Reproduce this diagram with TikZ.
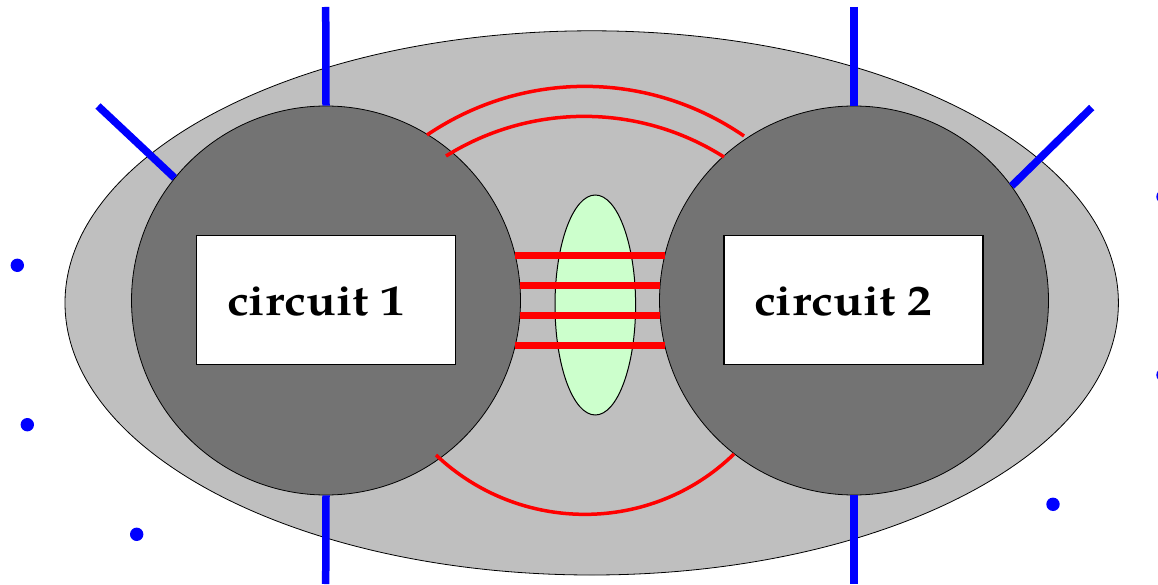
\documentclass[tikz,border=0pt]{standalone}
\usepackage{fontspec}
\usepackage{graphicx}
\setmainfont{TeX Gyre Pagella}
\usetikzlibrary{shapes.geometric}
\definecolor{outergray}{gray}{0.75}
\definecolor{innergray}{gray}{0.45}
\definecolor{lightgreen}{RGB}{204,255,204}
\newcommand{\widetxt}[1]{\scalebox{1.14}[1]{#1}}
\begin{document}
\begin{tikzpicture}[x=1pt,y=-1pt,
  tshell/.style={ellipse, draw=black, line width=0.8pt, fill=outergray, minimum width=1053.4pt, minimum height=544.2pt, inner sep=0pt},
  tcore/.style={circle, draw=black, line width=0.8pt, fill=innergray, minimum size=389pt, inner sep=0pt},
  tbox/.style={draw=black, line width=1.5pt, fill=white, minimum width=259pt, minimum height=128.6pt, inner sep=0pt},
  ttext/.style={font=\bfseries\fontsize{43}{43}\selectfont, anchor=base west, inner sep=0pt},
  tlens/.style={ellipse, draw=black, line width=1pt, fill=lightgreen, minimum width=80.6pt, minimum height=220pt, inner sep=0pt},
  redwire/.style={red, line width=3.5pt},
  redbus/.style={red, line width=7.5pt},
  bluepin/.style={blue, line width=7.5pt},
  bluedot/.style={circle, fill=blue, minimum size=13.4pt, inner sep=0pt}
]
\useasboundingbox (0,0) rectangle (1158,585);
\node[tshell] (shell) at (591.7,302.9) {};
% free ends
\coordinate (p1) at (325.7,7);
\coordinate (p2) at (325.7,584);
\coordinate (p3) at (854,7);
\coordinate (p4) at (854,584);
\coordinate (p5) at (98,106);
\coordinate (p6) at (1091.7,107.5);
% circles
\node[tcore] (c1) at (326,300.5) {};
\node[tcore] (c2) at (854,300.5) {};
% pins
\draw[bluepin] (p1) -- (c1.north);
\draw[bluepin] (c1.south) -- (p2);
\draw[bluepin] (p3) -- (c2.north);
\draw[bluepin] (c2.south) -- (p4);
\draw[bluepin] (p5) -- (c1.141.5);
\draw[bluepin] (c2.36) -- (p6);
% arcs
\coordinate (a1) at (427,135);
\coordinate (a2) at (744,136);
\coordinate (a3) at (446,156);
\coordinate (a4) at (724,157);
\coordinate (a5) at (436,455);
\coordinate (a6) at (734,454);
\draw[redwire] (a1) .. controls (523,70) and (648,70) .. (a2);
\draw[redwire] (a3) .. controls (531,103) and (639,103) .. (a4);
\draw[redwire] (a5) .. controls (519.6,534.3) and (651.4,534.3) .. (a6);
% lens and bus
\node[tlens] (g) at (595.3,305) {};
\coordinate (bl1) at (515.2,255.5);
\coordinate (br1) at (664.8,255.5);
\coordinate (bl2) at (519.9,285.5);
\coordinate (br2) at (660.1,285.5);
\coordinate (bl3) at (519.9,315.5);
\coordinate (br3) at (660.1,315.5);
\coordinate (bl4) at (515.2,345.5);
\coordinate (br4) at (664.8,345.5);
\draw[redbus] (bl1) -- (br1);
\draw[redbus] (bl2) -- (br2);
\draw[redbus] (bl3) -- (br3);
\draw[redbus] (bl4) -- (br4);
% boxes
\node[tbox] (r1) at (326.2,300) {};
\node[tbox] (r2) at (853.5,300) {};
\node[ttext] (t1) at (227,315) {\widetxt{circuit 1}};
\node[ttext] (t2) at (754,315) {\widetxt{circuit 2}};
% dots
\node[bluedot] (d1) at (17.3,265.3) {};
\node[bluedot] (d2) at (27.3,424.7) {};
\node[bluedot] (d3) at (136.7,534.3) {};
\node[bluedot] (d4) at (1053,504.3) {};
\node[bluedot] (d5) at (1163,196.7) {};
\node[bluedot] (d6) at (1163,375) {};
\end{tikzpicture}
\end{document}
